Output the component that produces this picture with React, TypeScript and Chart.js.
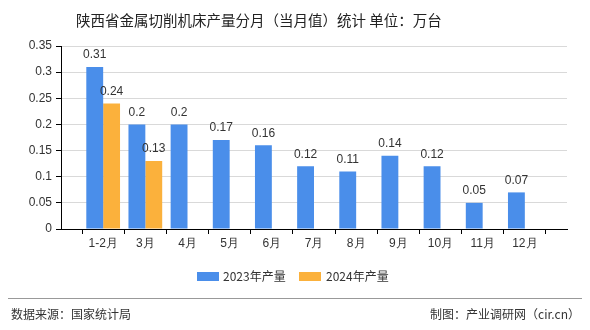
import React, { useEffect, useRef } from "react";
import { Chart, registerables } from "chart.js";

Chart.register(...registerables);

const categories = ["1-2月", "3月", "4月", "5月", "6月", "7月", "8月", "9月", "10月", "11月", "12月"];
const series2023 = [0.31, 0.2, 0.2, 0.17, 0.16, 0.12, 0.11, 0.14, 0.12, 0.05, 0.07];
const series2024 = [0.24, 0.13];
const yMax = 0.35;
const yStep = 0.05;

const BLUE = "#4a8eea";
const ORANGE = "#fbb13c";

const valueLabels = {
  id: "valueLabels",
  afterDatasetsDraw(chart: any) {
    const ctx = chart.ctx;
    ctx.save();
    ctx.font = "12px 'Liberation Sans', sans-serif";
    ctx.fillStyle = "#333";
    ctx.textAlign = "center";
    ctx.textBaseline = "bottom";
    chart.data.datasets.forEach((ds: any, i: number) => {
      const meta = chart.getDatasetMeta(i);
      meta.data.forEach((el: any, j: number) => {
        const v = ds.data[j];
        if (v === null || v === undefined) return;
        ctx.fillText(String(v), el.x, el.y - 6);
      });
    });
    ctx.restore();
  },
};

export default function App() {
  const ref = useRef<HTMLCanvasElement | null>(null);
  useEffect(() => {
    if (!ref.current) return;
    const labels = ["", ...categories, ""];
    const pad = (arr: number[]) => [null, ...categories.map((_, i) => (i < arr.length ? arr[i] : null)), null];
    const chart = new Chart(ref.current, {
      type: "bar",
      data: {
        labels,
        datasets: [
          { label: "2023年产量", data: pad(series2023) as any, backgroundColor: BLUE },
          { label: "2024年产量", data: pad(series2024) as any, backgroundColor: ORANGE },
        ],
      },
      options: {
        animation: false,
        responsive: false,
        maintainAspectRatio: false,
        layout: { padding: { left: 0, right: 23, top: 46, bottom: 0 } },
        plugins: { legend: { display: false }, title: { display: false }, tooltip: { enabled: false } },
        datasets: { bar: { categoryPercentage: 0.8, barPercentage: 1 } } as any,
        scales: {
          x: {
            offset: false,
            afterFit(scale: any) {
              scale.height = 101;
            },
            grid: { drawOnChartArea: false, tickColor: "#000", tickLength: 5 },
            border: { color: "#000" },
            ticks: { color: "#333", font: { size: 12, family: "'Liberation Sans', sans-serif" }, maxRotation: 0, autoSkip: false, padding: 2 },
          },
          y: {
            min: 0,
            max: yMax,
            afterFit(scale: any) {
              scale.width = 61;
            },
            grid: { color: "#d9d9d9", tickColor: "#000", tickLength: 5 },
            border: { color: "#000" },
            ticks: {
              stepSize: yStep,
              color: "#333",
              font: { size: 12, family: "'Liberation Sans', sans-serif" },
              padding: 4,
              callback: (v: any) => String(Number(Number(v).toFixed(2))),
            },
          },
        },
      },
      plugins: [valueLabels],
    });
    return () => chart.destroy();
  }, []);

  const text: React.CSSProperties = { position: "absolute", fontFamily: "'Noto Sans CJK SC', sans-serif", color: "#333", whiteSpace: "nowrap" };
  return (
    <div style={{ position: "fixed", left: 0, top: 0, width: 590, height: 330, background: "#fff" }}>
      <canvas ref={ref} width={590} height={330} style={{ position: "absolute", left: 0, top: 0, width: 590, height: 330 }} />
      <div style={{ ...text, left: 76, top: 9, fontSize: 14.5, color: "#222" }}>陕西省金属切削机床产量分月（当月值）统计 单位：万台</div>
      <div style={{ position: "absolute", left: 197, top: 272, width: 22, height: 9, background: BLUE }} />
      <div style={{ ...text, left: 223, top: 267, fontSize: 12, lineHeight: "18px" }}>2023年产量</div>
      <div style={{ position: "absolute", left: 299, top: 272, width: 22, height: 9, background: ORANGE }} />
      <div style={{ ...text, left: 326, top: 267, fontSize: 12, lineHeight: "18px" }}>2024年产量</div>
      <div style={{ position: "absolute", left: 8, top: 298, width: 574, height: 1, background: "#999" }} />
      <div style={{ ...text, left: 11, top: 305, fontSize: 12, lineHeight: "18px" }}>数据来源：国家统计局</div>
      <div style={{ ...text, right: 10, top: 305, fontSize: 12, lineHeight: "18px" }}>制图：产业调研网（cir.cn）</div>
    </div>
  );
}
